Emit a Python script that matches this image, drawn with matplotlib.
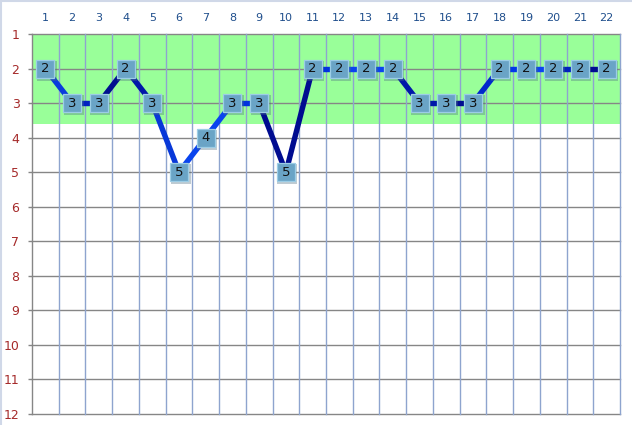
import numpy as np
import matplotlib.pyplot as plt
from matplotlib.lines import Line2D
from matplotlib.transforms import ScaledTranslation

# data
positions = list(range(1, 23))
ranks = [2, 3, 3, 2, 3, 5, 4, 3, 3, 5, 2, 2, 2, 2, 3, 3, 3, 2, 2, 2, 2, 2]
y_ticks = list(range(1, 13))
band_limit = 3.6

# one colour per segment between neighbouring points
seg_colors = ['#0A3CDC', '#0022C0', '#00108F', '#0018A8', '#0838D8', '#0A44EE',
              '#0A44EE', '#0033DD', '#000C90', '#000C90', '#0033DD', '#0A44EE',
              '#0A44EE', '#0018A8', '#0018A8', '#000C90', '#0028CC', '#0038E8',
              '#0A44F0', '#0022BB', '#000C90']

fig = plt.figure(figsize=(6.32, 4.25), dpi=100)
ax = fig.add_axes([32 / 632, 1 - 414 / 425, 588 / 632, 380 / 425])

ax.set_xlim(0.5, 22.5)
ax.set_ylim(12, 1)

# green zone
ax.axhspan(1, band_limit, color='#99FF99', zorder=0, lw=0)

# grid
for yv in y_ticks:
    ax.axhline(yv, color='#868686', lw=1.0, zorder=1, clip_on=False)
for xv in np.arange(1.5, 23, 1):
    ax.axvline(xv, color='#8EA4CE', lw=1.0, zorder=1, clip_on=False)

# segments
for i in range(len(ranks) - 1):
    ax.plot(positions[i:i + 2], ranks[i:i + 2], color=seg_colors[i], lw=3.9,
            solid_capstyle='butt', zorder=2)

# markers with a soft shadow
shadow = ax.transData + ScaledTranslation(1.5 / 100, -2 / 100, fig.dpi_scale_trans)
for x, y in zip(positions, ranks):
    ax.plot(x, y, marker='s', markersize=13.8, color='#4A6A80', alpha=0.35,
            markeredgewidth=0, zorder=3, transform=shadow)
    ax.plot(x, y, marker='s', markersize=13.5, markerfacecolor='#6AA4C6',
            markeredgecolor='#9CCDE6', markeredgewidth=0.9, zorder=4)
    ax.text(x, y, str(y), ha='center', va='center', fontsize=9.5,
            color='#111111', zorder=5)

ax.set_xticks(positions)
ax.set_yticks(y_ticks)
ax.xaxis.tick_top()
ax.tick_params(axis='x', length=0, pad=8, labelsize=8, labelcolor='#1F4E8C')
ax.tick_params(axis='y', length=3, width=1.0, color='#868686', pad=6,
               labelsize=9, labelcolor='#A52A2A')

for s in ['top', 'right', 'bottom']:
    ax.spines[s].set_visible(False)
ax.spines['left'].set_color('#868686')
ax.spines['left'].set_linewidth(1.0)

# chart border (left and top edges)
fig.add_artist(Line2D([0.001, 0.001], [0, 1], color='#D0D8E8', lw=1.5, transform=fig.transFigure))
fig.add_artist(Line2D([0, 1], [0.998, 0.998], color='#D0D8E8', lw=1.5, transform=fig.transFigure))

fig.savefig('out.png', dpi=100)
